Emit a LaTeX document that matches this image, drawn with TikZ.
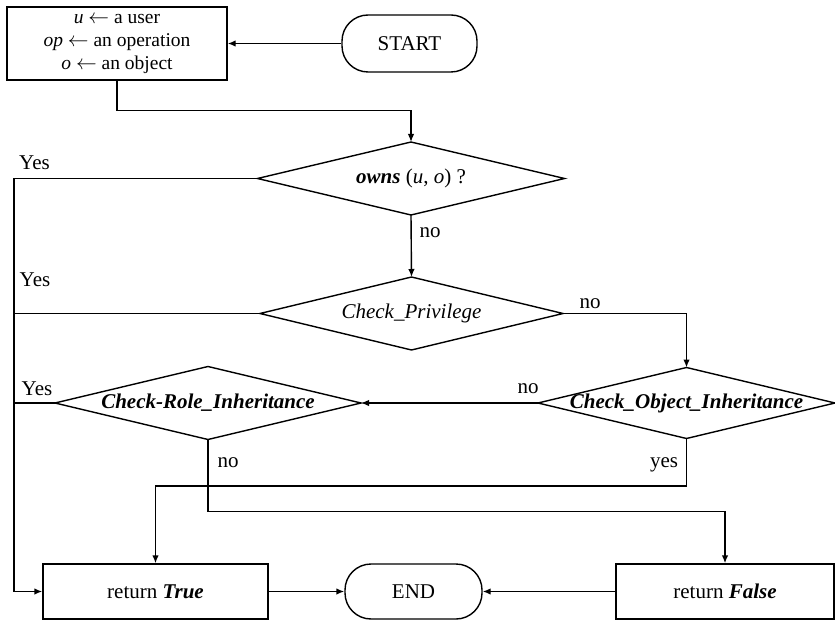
\documentclass[tikz,border=0pt]{standalone}
\usepackage{fontspec}
\setmainfont{Liberation Serif}
\usetikzlibrary{arrows.meta,shapes.geometric}
\begin{document}
\begin{tikzpicture}[x=1pt,y=-1pt,
  font=\fontsize{21}{22}\selectfont,
  line width=1.4pt,
  arr/.style={-{Latex[length=8pt,width=6.5pt]}},
  procbox/.style={draw, rectangle, inner sep=0pt, align=center},
  term/.style={draw, rectangle, rounded corners=26pt, inner sep=0pt},
  decision/.style={draw, diamond, inner sep=0pt, outer sep=0pt},
  lbl/.style={inner sep=0pt}
]
\useasboundingbox (0,0) rectangle (835,620);

% nodes
\node[procbox, minimum width=220pt, minimum height=73pt,
  font=\fontsize{19.5}{23}\selectfont] (init) at (117,43.5)
  {\textit{u} $\leftarrow$ a user\\ \textit{op} $\leftarrow$ an operation\\ \textit{o} $\leftarrow$ an object};
\node[term, minimum width=135pt, minimum height=57pt] (start) at (409.5,43.5) {START};

\node[decision, minimum width=307pt, minimum height=73pt,
  label={[lbl]center:{\textbf{\textit{owns}} (\textit{u}, \textit{o}) ?}}] (d1) at (411,178.5) {};
\node[decision, minimum width=303pt, minimum height=73pt,
  label={[lbl]center:{\textit{Check\_Privilege}}}] (d2) at (411.5,313.5) {};
\node[decision, minimum width=297pt, minimum height=71pt,
  label={[lbl]center:{\textbf{\textit{Check\_Object\_Inheritance}}}}] (d3) at (686.5,403) {};
\node[decision, minimum width=306pt, minimum height=73pt,
  label={[lbl]center:{\textbf{\textit{Check-Role\_Inheritance}}}}] (d4) at (208,403) {};

\node[procbox, minimum width=225pt, minimum height=55pt] (rt) at (155.5,591.5) {return \textbf{\textit{True}}};
\node[term, minimum width=137pt, minimum height=55pt] (end) at (413.5,591.5) {END};
\node[procbox, minimum width=218pt, minimum height=55pt] (rf) at (725,591.5) {return \textbf{\textit{False}}};

\coordinate (bus) at (14,178.5);

% connectors
\draw[arr] (start.west) -- (init.east);
\draw[arr] (init.south) -- ++(0,30) -| (d1.north);
\draw[arr] (d1.south) -- (d2.north);
\draw[arr] (d2.east) -| (d3.north);
\draw[arr] (d3.west) -- (d4.east);
\draw[arr] (d1.west) -- (bus) |- (rt.west);
\draw (d2.west) -- (d2.west -| bus);
\draw (d4.west) -- (d4.west -| bus);
\draw[arr] (d4.south) -- ++(0,72) -| (rf.north);
\draw[arr] (d3.south) -- ++(0,47.5) -| (rt.north);
\draw[arr] (rt.east) -- (end.west);
\draw[arr] (rf.west) -- (end.east);

% labels
\node[lbl] (y1) at (34.5,163) {Yes};
\node[lbl] (y2) at (35,280) {Yes};
\node[lbl] (y3) at (37,389) {Yes};
\node[lbl] (n1) at (430,233) {no};
\node[lbl] (n2) at (590,304) {no};
\node[lbl] (n3) at (528,389) {no};
\node[lbl] (n4) at (228,463) {no};
\node[lbl] (n5) at (664,465) {yes};
\end{tikzpicture}
\end{document}
